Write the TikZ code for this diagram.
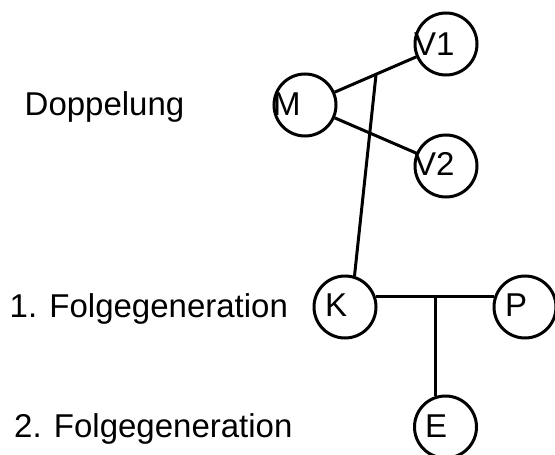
\documentclass[tikz,border=0pt]{standalone}
\usepackage{fontspec}
\setmainfont{Liberation Sans}
\usetikzlibrary{calc}
\begin{document}
\begin{tikzpicture}[x=1pt,y=-1pt,
  circ/.style={draw,circle,line width=3pt,minimum size=62pt,inner sep=0pt},
  lbl/.style={anchor=base west,inner sep=0pt,font=\fontsize{33}{40}\selectfont},
  conn/.style={line width=3pt}]
\useasboundingbox (0,0) rectangle (555,455);
% circles
\node[circ] (M) at (305,105) {};
\node[circ] (V1) at (446,44) {};
\node[circ] (V2) at (446,166) {};
\node[circ] (K) at (345,307) {};
\node[circ] (P) at (525,307) {};
\node[circ] (E) at (445.5,427) {};
% letters
\node[lbl] (tM) at (273,115) {M};
\node[lbl] (tV1) at (414,55) {V1};
\node[lbl] (tV2) at (414,175) {V2};
\node[lbl] (tK) at (325,316) {K};
\node[lbl] (tP) at (505,316) {P};
\node[lbl] (tE) at (425,437) {E};
% side labels
\node[lbl] (d) at (24.5,115) {Doppelung};
\node[lbl] (f1) at (9.5,317) {1. Folgegeneration};
\node[lbl] (f2) at (14,437) {2. Folgegeneration};
% connectors
\draw[conn] (M) -- (V1);
\draw[conn] (M) -- (V2);
\coordinate (J) at ($(M)!0.504!(V1)$);
\draw[conn] (J) -- (K.73);
\draw[conn] (K.19) -- (P.161);
\coordinate (T) at ($(K.19)!0.5!(P.161)$);
\draw[conn] (T) -- (T |- E.110);
\end{tikzpicture}
\end{document}
